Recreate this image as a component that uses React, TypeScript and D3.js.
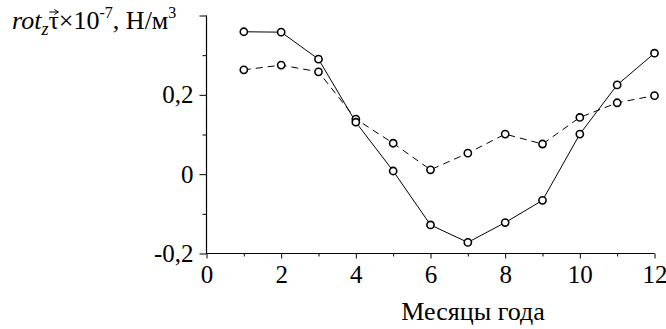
import { useEffect, useRef } from "react";
import * as d3 from "d3";

// Months 1..12
const months = [1, 2, 3, 4, 5, 6, 7, 8, 9, 10, 11, 12];
// solid line series
const solidValues = [0.359, 0.358, 0.29, 0.131, 0.008, -0.128, -0.172, -0.122, -0.066, 0.101, 0.225, 0.305];
// dashed line series
const dashedValues = [0.263, 0.275, 0.258, 0.139, 0.078, 0.011, 0.053, 0.101, 0.076, 0.143, 0.18, 0.198];

const xMajorTicks = [0, 2, 4, 6, 8, 10, 12];
const xMinorTicks = [1, 3, 5, 7, 9, 11];
const yMajorTicks = [-0.2, 0, 0.2, 0.4];
const yMinorTicks = [-0.1, 0.1, 0.3];
const yTickLabels = ["-0,2", "0", "0,2", ""];

const FONT = "Liberation Serif, Times New Roman, serif";

const RotChart = () => {
    const chartRef = useRef<SVGSVGElement>(null);

    useEffect(() => {
        if (!chartRef.current) return;
        const svg = d3.select(chartRef.current);
        svg.selectAll("*").remove();

        const x = d3.scaleLinear().domain([0, 12]).range([206.5, 654.5]);
        const y = d3.scaleLinear().domain([-0.2, 0.4]).range([253.5, 15.5]);

        // x axis
        const xAxisG = svg.append("g").attr("transform", `translate(0,${y(-0.2)})`);
        xAxisG.call(d3.axisBottom(x).tickValues(xMajorTicks).tickSize(5).tickPadding(7).tickFormat((d) => String(d)));
        xAxisG.append("g").call(d3.axisBottom(x).tickValues(xMinorTicks).tickSize(3).tickFormat(() => ""))
            .select(".domain").remove();
        xAxisG.selectAll(".domain").attr("d", `M${x(0)},0H${x(12)}`);

        // y axis
        const yAxisG = svg.append("g").attr("transform", `translate(${x(0)},0)`);
        yAxisG.call(d3.axisLeft(y).tickValues(yMajorTicks).tickSize(7).tickPadding(6)
            .tickFormat((_, i) => yTickLabels[i]));
        yAxisG.append("g").call(d3.axisLeft(y).tickValues(yMinorTicks).tickSize(4).tickFormat(() => ""))
            .select(".domain").remove();
        yAxisG.selectAll(".domain").attr("d", `M0,${y(-0.2)}V${y(0.4)}`);

        svg.selectAll(".tick line").attr("stroke", "#000").attr("stroke-width", 1);
        svg.selectAll(".domain").attr("stroke", "#000").attr("stroke-width", 1.2);
        svg.selectAll("g").attr("font-family", null).attr("font-size", null);
        svg.selectAll(".tick text")
            .style("font-family", FONT)
            .style("font-size", "25px")
            .attr("fill", "#000");

        // lines
        const line = d3.line<number>()
            .x((_, i) => x(months[i]))
            .y((d) => y(d));

        svg.append("path")
            .datum(dashedValues)
            .attr("d", line)
            .attr("fill", "none")
            .attr("stroke", "#000")
            .attr("stroke-width", 1)
            .attr("stroke-dasharray", "7,5");

        svg.append("path")
            .datum(solidValues)
            .attr("d", line)
            .attr("fill", "none")
            .attr("stroke", "#000")
            .attr("stroke-width", 1);

        [dashedValues, solidValues].forEach((vals) => {
            svg.append("g")
                .selectAll("circle")
                .data(vals)
                .join("circle")
                .attr("cx", (_, i) => x(months[i]))
                .attr("cy", (d) => y(d))
                .attr("r", 3.6)
                .attr("fill", "#fff")
                .attr("stroke", "#000")
                .attr("stroke-width", 1.6);
        });

        // x axis title
        svg.append("text")
            .attr("x", 473)
            .attr("y", 320)
            .attr("text-anchor", "middle")
            .style("font-family", FONT)
            .style("font-size", "26px")
            .text("Месяцы года");

        // y axis title, pieces placed one after another
        const pieces = [
            { t: "rot", size: 26, italic: true, dy: 0 },
            { t: "z", size: 18, italic: true, dy: 6 },
            { t: "τ", size: 26, italic: false, dy: 0, arrow: true },
            { t: "×10", size: 26, italic: false, dy: 0 },
            { t: "-7", size: 16, italic: false, dy: -11 },
            { t: ", Н/м", size: 26, italic: false, dy: 0 },
            { t: "3", size: 16, italic: false, dy: -11 },
        ];
        const baseY = 29;
        let cx = 12;
        pieces.forEach((p) => {
            const txt = svg.append("text")
                .attr("x", cx)
                .attr("y", baseY + p.dy)
                .style("font-family", FONT)
                .style("font-size", `${p.size}px`)
                .style("font-style", p.italic ? "italic" : "normal")
                .style("white-space", "pre")
                .text(p.t);
            const w = (txt.node() as SVGTextElement).getComputedTextLength();
            if (p.arrow) {
                const ay = baseY - 17;
                svg.append("path")
                    .attr("d", `M${cx + 1},${ay}H${cx + w - 0.5}M${cx + w - 4.5},${ay - 2.5}L${cx + w - 0.5},${ay}L${cx + w - 4.5},${ay + 2.5}`)
                    .attr("fill", "none")
                    .attr("stroke", "#000")
                    .attr("stroke-width", 1);
            }
            cx += w;
        });
    }, []);

    return (
        <svg
            ref={chartRef}
            width={666}
            height={329}
            style={{ position: "absolute", left: 0, top: 0, background: "#fff" }}
        />
    );
};

export default function App() {
    return <RotChart />;
}
